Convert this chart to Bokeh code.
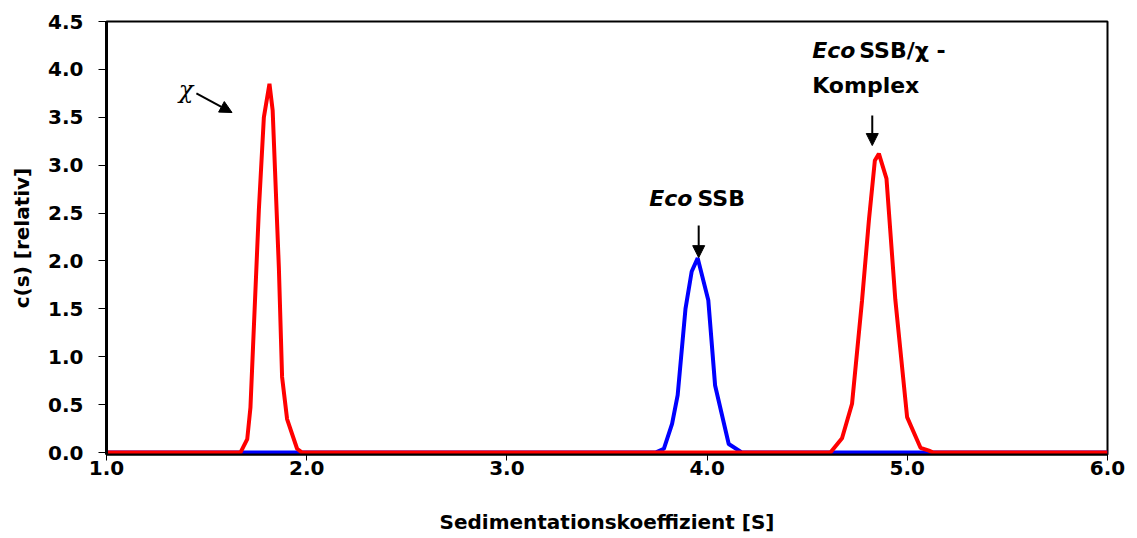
from bokeh.plotting import figure
from bokeh.models import Range1d, FixedTicker, PrintfTickFormatter, Label, Arrow, NormalHead
from bokeh.embed import file_html
from bokeh.resources import INLINE

# c(s) distributions (sedimentation coefficient in S, relative concentration)
red_s = [1.0, 1.669, 1.703, 1.719, 1.761, 1.786, 1.814, 1.830, 1.861, 1.877, 1.902, 1.952, 1.977,
         4.616, 4.674, 4.724, 4.774, 4.808, 4.838, 4.858, 4.896, 4.940, 4.999, 5.066, 5.108, 5.130, 6.0]
red_c = [0.0, 0.0, 0.14, 0.47, 2.53, 3.50, 3.85, 3.57, 1.93, 0.79, 0.35, 0.04, 0.0,
         0.0, 0.15, 0.51, 1.59, 2.42, 3.05, 3.12, 2.86, 1.60, 0.37, 0.05, 0.02, 0.0, 0.0]

blue_s = [1.0, 3.742, 3.784, 3.825, 3.853, 3.892, 3.923, 3.953, 4.006, 4.040, 4.108, 4.175, 6.0]
blue_c = [0.0, 0.0, 0.04, 0.30, 0.60, 1.50, 1.89, 2.03, 1.59, 0.70, 0.09, 0.0, 0.0]

x_ticks = [1.0, 2.0, 3.0, 4.0, 5.0, 6.0]
y_ticks = [0.0, 0.5, 1.0, 1.5, 2.0, 2.5, 3.0, 3.5, 4.0, 4.5]

FONT = "DejaVu Sans"

p = figure(width=1137, height=538,
           x_range=Range1d(1.0, 6.0), y_range=Range1d(-0.02, 4.5),
           output_backend="svg", toolbar_location=None,
           min_border_left=106, min_border_right=30,
           min_border_top=21, min_border_bottom=84)

p.grid.visible = False
p.background_fill_color = "white"
p.border_fill_color = "white"
p.outline_line_color = "black"
p.outline_line_width = 2

for ax in (p.xaxis[0], p.yaxis[0]):
    ax.major_label_text_font = FONT
    ax.major_label_text_font_style = "bold"
    ax.major_label_text_font_size = "20px"
    ax.major_label_text_color = "black"
    ax.axis_label_text_font = FONT
    ax.axis_label_text_font_style = "bold"
    ax.axis_label_text_font_size = "20px"
    ax.axis_label_text_color = "black"
    ax.minor_tick_line_color = None
    ax.major_tick_in = 0
    ax.major_tick_line_color = "black"
    ax.formatter = PrintfTickFormatter(format="%.1f")

p.xaxis.ticker = FixedTicker(ticks=x_ticks)
p.yaxis.ticker = FixedTicker(ticks=y_ticks)

p.xaxis.axis_label = "Sedimentationskoeffizient [S]"
p.xaxis.major_tick_out = 6
p.xaxis.major_label_standoff = 0
p.xaxis.axis_label_standoff = 32
p.xaxis.axis_line_width = 2

p.yaxis.axis_label = "c(s) [relativ]"
p.yaxis.major_tick_out = 8
p.yaxis.major_label_standoff = 15
p.yaxis.axis_label_standoff = 11
p.yaxis.axis_line_width = 3

p.line(blue_s, blue_c, line_color="#0000FF", line_width=4)
p.line(red_s, red_c, line_color="#FF0000", line_width=4)

# peak annotations
def label(x, y, text, style="bold", size="22px", align="left", font=FONT, baseline="alphabetic"):
    p.add_layout(Label(x=x, y=y, text=text, text_font=font, text_font_style=style,
                       text_font_size=size, text_align=align, text_baseline=baseline,
                       text_color="black"))

def arrow(x0, y0, x1, y1):
    p.add_layout(Arrow(end=NormalHead(size=12, fill_color="black", line_color="black"),
                       x_start=x0, y_start=y0, x_end=x1, y_end=y1,
                       line_color="black", line_width=2))

label(1.397, 3.79, "χ", style="italic", size="24px", align="center",
      font="DejaVu Serif", baseline="middle")
arrow(1.449, 3.75, 1.627, 3.55)

label(3.927, 2.65, "Eco", style="bold italic", align="right")
label(3.952, 2.65, "SSB")
arrow(3.958, 2.37, 3.958, 2.035)

label(4.525, 4.196, "Eco", style="bold italic")
label(4.76, 4.196, "SSB/χ -")
label(4.525, 3.83, "Komplex")
arrow(4.825, 3.52, 4.825, 3.205)

open("out.html", "w").write(file_html(p, INLINE))
